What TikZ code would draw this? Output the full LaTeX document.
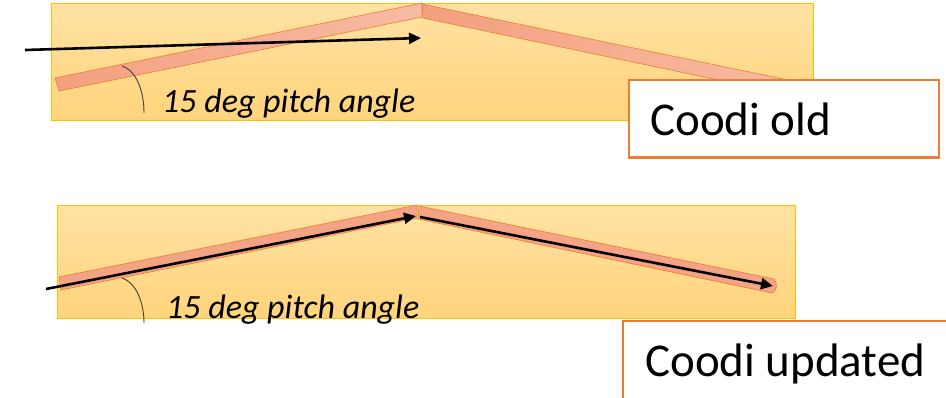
\documentclass[tikz,border=0pt]{standalone}
\usepackage{fontspec}
\setmainfont{Carlito}
\usetikzlibrary{arrows.meta}

\definecolor{panelTop}{HTML}{FFE2A3}
\definecolor{panelBot}{HTML}{FFD47C}
\definecolor{panelEdge}{HTML}{FFC000}
\definecolor{beamDark}{HTML}{F4A080}
\definecolor{beamLight}{HTML}{F7BCA4}
\definecolor{beamEdge}{HTML}{ED7D31}
\definecolor{boxEdge}{HTML}{ED7D31}

\tikzset{
  panel/.style={draw=panelEdge, line width=0.8pt, top color=panelTop, bottom color=panelBot},
  beam/.style={draw=beamEdge, line width=0.6pt, line join=miter},
  flow/.style={draw=black, line width=2.6pt, -{Triangle[length=12pt,width=11pt]}},
  anglemark/.style={draw=black!75, line width=0.9pt},
  pitchlabel/.style={font=\itshape\fontsize{34}{40}\selectfont, inner sep=0pt, anchor=base west},
  labelbox/.style={draw=boxEdge, line width=2.2pt, fill=white},
  boxtext/.style={font=\fontsize{47}{56}\selectfont, inner sep=0pt, anchor=base west}
}

\begin{document}
\begin{tikzpicture}[x=1pt, y=-1pt]
  \useasboundingbox (0,0) rectangle (946,397);

  % ---------- old coordinate convention ----------
  \path[panel] (51,3) rectangle (813,120);
  % roof beams
  \path[beam, left color=beamDark, right color=beamLight]
    (55,78) -- (422,3) -- (422,17) -- (59,91) -- cycle;
  \path[beam, left color=beamDark, right color=beamLight]
    (422,4) -- (812,85) -- (809,99) -- (423,18) -- cycle;
  % flow direction
  \coordinate (oldStart) at (25,50);
  \coordinate (oldEnd) at (421,38);
  \draw[flow] (oldStart) -- (oldEnd);
  % pitch angle mark
  \coordinate (arcA1) at (122,66);
  \coordinate (arcA2) at (144,113);
  \draw[anglemark] (arcA1) .. controls (137,71) and (144,92) .. (arcA2);
  \node[pitchlabel] (pitchOld) at (162,112) {15 deg pitch angle};
  % caption box
  \draw[labelbox] (629,80) rectangle (939,157.5);
  \node[boxtext] (captionOld) at (650,135) {Coodi old};

  % ---------- updated coordinate convention ----------
  \path[panel] (57,205) rectangle (795,318);
  \path[beam, fill=beamDark!90!beamLight]
    (59,277) -- (417,205) -- (417,218) -- (61,290) -- cycle;
  \path[beam, fill=beamDark!90!beamLight]
    (419,206) -- (774,279) .. controls (778,283) and (777,291) .. (772,293) -- (418,219) -- cycle;
  \coordinate (newStart) at (46,289);
  \coordinate (newApex) at (416,216);
  \coordinate (newApexR) at (420,217);
  \coordinate (newEnd) at (773,286);
  \draw[flow] (newStart) -- (newApex);
  \draw[flow] (newApexR) -- (newEnd);
  \coordinate (arcB1) at (122,278);
  \coordinate (arcB2) at (144,323);
  \draw[anglemark] (arcB1) .. controls (137,283) and (144,304) .. (arcB2);
  \node[pitchlabel] (pitchNew) at (166,318) {15 deg pitch angle};
  \draw[labelbox] (623,321) rectangle (960,410);
  \node[boxtext] (captionNew) at (645,376) {Coodi updated};
\end{tikzpicture}
\end{document}
